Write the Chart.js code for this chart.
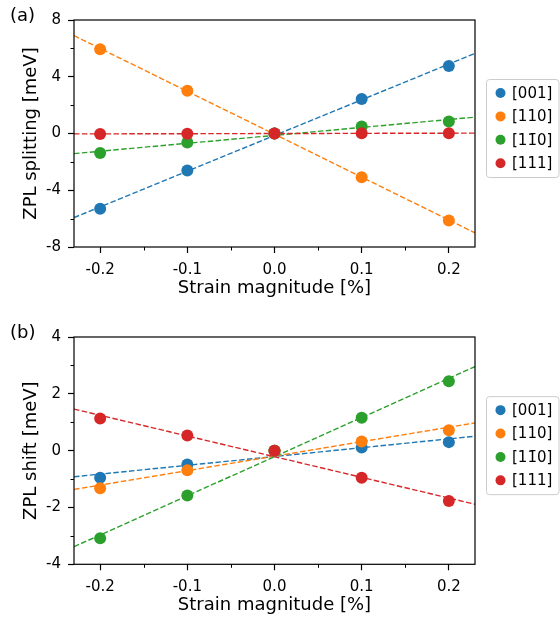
<!DOCTYPE html>
<html>
<head>
<meta charset="utf-8">
<script src="https://cdn.jsdelivr.net/npm/chart.js@4.4.1/dist/chart.umd.min.js"></script>
<style>
  html, body { margin: 0; padding: 0; background: #fff; }
  canvas { display: block; }
</style>
</head>
<body>
<canvas id="chartA" width="560" height="310"></canvas>
<canvas id="chartB" width="560" height="310"></canvas>
<script>
// Strain values (x) shared by both panels
const strain = [-0.2, -0.1, 0.0, 0.1, 0.2];
const xTicks = [-0.2, -0.1, 0.0, 0.1, 0.2];
const xMinorTicks = [-0.15, -0.05, 0.05, 0.15];
const xLimits = [-0.23, 0.23];

// Strain directions and their colours
const directions = ['[001]', '[110]', '[11\u03040]', '[111]'];
const colors = ['#1f77b4', '#ff7f0e', '#2ca02c', '#d62728'];

// (a) ZPL splitting [meV]
const splitting001 = [-5.30, -2.60, 0.00, 2.44, 4.76];
const splitting110 = [5.94, 3.01, 0.00, -3.08, -6.13];
const splitting1m10 = [-1.38, -0.63, 0.00, 0.50, 0.85];
const splitting111 = [-0.03, -0.01, 0.00, 0.01, 0.02];
const splittingTicks = [-8, -4, 0, 4, 8];
const splittingMinor = [-6, -2, 2, 6];

// (b) ZPL shift [meV]
const shift001 = [-0.95, -0.49, 0.00, 0.11, 0.30];
const shift110 = [-1.32, -0.69, 0.00, 0.32, 0.72];
const shift1m10 = [-3.08, -1.58, 0.00, 1.16, 2.44];
const shift111 = [1.13, 0.53, 0.00, -0.95, -1.77];
const shiftTicks = [-4, -2, 0, 2, 4];
const shiftMinor = [-3, -1, 1, 3];

Chart.defaults.font.family = "'DejaVu Sans', sans-serif";
Chart.defaults.color = '#000';

// Least-squares straight line through a series
function linearFit(xs, ys) {
  const n = xs.length;
  const mx = xs.reduce((a, b) => a + b, 0) / n;
  const my = ys.reduce((a, b) => a + b, 0) / n;
  let sxy = 0, sxx = 0;
  for (let i = 0; i < n; i++) {
    sxy += (xs[i] - mx) * (ys[i] - my);
    sxx += (xs[i] - mx) * (xs[i] - mx);
  }
  const slope = sxy / sxx;
  return x => my + slope * (x - mx);
}

// Frame, minor ticks, panel tag and boxed legend
const decorations = {
  id: 'decorations',
  afterDatasetsDraw(chart, args, opts) {
    const ctx = chart.ctx;
    const area = chart.chartArea;
    const xs = chart.scales.x, ys = chart.scales.y;
    ctx.save();
    ctx.strokeStyle = '#000';
    ctx.lineWidth = 1.2;
    ctx.strokeRect(area.left, area.top, area.right - area.left, area.bottom - area.top);
    ctx.lineWidth = 1;
    ctx.beginPath();
    opts.xMinor.forEach(v => {
      const px = Math.round(xs.getPixelForValue(v)) + 0.5;
      ctx.moveTo(px, area.bottom);
      ctx.lineTo(px, area.bottom + 3.5);
    });
    opts.yMinor.forEach(v => {
      const py = Math.round(ys.getPixelForValue(v)) + 0.5;
      ctx.moveTo(area.left, py);
      ctx.lineTo(area.left - 3.5, py);
    });
    ctx.stroke();

    // panel tag
    ctx.fillStyle = '#000';
    ctx.font = "18px 'DejaVu Sans'";
    ctx.textAlign = 'left';
    ctx.textBaseline = 'middle';
    ctx.fillText(opts.tag, 10, area.top - 3.5);

    // legend
    const boxLeft = area.right + 11.5;
    const boxTop = (area.top + area.bottom) / 2 - 54;
    const boxW = 72.5, boxH = 98, r = 3;
    ctx.beginPath();
    ctx.moveTo(boxLeft + r, boxTop);
    ctx.lineTo(boxLeft + boxW - r, boxTop);
    ctx.arcTo(boxLeft + boxW, boxTop, boxLeft + boxW, boxTop + r, r);
    ctx.lineTo(boxLeft + boxW, boxTop + boxH - r);
    ctx.arcTo(boxLeft + boxW, boxTop + boxH, boxLeft + boxW - r, boxTop + boxH, r);
    ctx.lineTo(boxLeft + r, boxTop + boxH);
    ctx.arcTo(boxLeft, boxTop + boxH, boxLeft, boxTop + boxH - r, r);
    ctx.lineTo(boxLeft, boxTop + r);
    ctx.arcTo(boxLeft, boxTop, boxLeft + r, boxTop, r);
    ctx.closePath();
    ctx.fillStyle = 'rgba(255,255,255,0.8)';
    ctx.fill();
    ctx.strokeStyle = '#cccccc';
    ctx.lineWidth = 1;
    ctx.stroke();
    ctx.font = "15px 'DejaVu Sans'";
    directions.forEach((name, i) => {
      const cy = boxTop + 13.5 + i * 23.4;
      ctx.beginPath();
      ctx.arc(boxLeft + 14, cy, 5, 0, Math.PI * 2);
      ctx.fillStyle = colors[i];
      ctx.fill();
      ctx.fillStyle = '#000';
      ctx.fillText(name, boxLeft + 25.5, cy + 1);
    });
    ctx.restore();
  }
};

function buildChart(canvasId, series, cfg) {
  const datasets = [];
  series.forEach((ys, i) => {
    const fit = linearFit(strain, ys);
    datasets.push({
      type: 'line',
      label: directions[i] + ' fit',
      data: xLimits.map(x => ({ x: x, y: fit(x) })),
      borderColor: colors[i],
      borderWidth: 1.4,
      borderDash: [5.5, 2.4],
      pointRadius: 0,
      fill: false,
      order: 10 + (series.length - 1 - i)
    });
  });
  series.forEach((ys, i) => {
    datasets.push({
      type: 'scatter',
      label: directions[i],
      data: strain.map((x, k) => ({ x: x, y: ys[k] })),
      backgroundColor: colors[i],
      borderColor: colors[i],
      borderWidth: 0,
      pointRadius: 6,
      pointHoverRadius: 6,
      order: series.length - 1 - i
    });
  });

  return new Chart(document.getElementById(canvasId), {
    data: { datasets: datasets },
    options: {
      responsive: false,
      animation: false,
      events: [],
      layout: { padding: { left: 0, right: 85, top: cfg.padTop, bottom: cfg.padBottom } },
      plugins: {
        legend: { display: false },
        tooltip: { enabled: false },
        decorations: { tag: cfg.tag, xMinor: xMinorTicks, yMinor: cfg.yMinor }
      },
      scales: {
        x: {
          type: 'linear',
          min: xLimits[0],
          max: xLimits[1],
          afterBuildTicks: s => { s.ticks = xTicks.map(v => ({ value: v })); },
          afterFit: s => { s.height = 52; },
          ticks: {
            font: { size: 15 },
            color: '#000',
            padding: 8,
            maxRotation: 0,
            callback: v => v.toFixed(1)
          },
          grid: {
            display: true,
            drawOnChartArea: false,
            drawTicks: true,
            tickLength: 6,
            tickWidth: 1.2,
            tickColor: '#000'
          },
          border: { display: false },
          title: {
            display: true,
            text: 'Strain magnitude [%]',
            font: { size: 18 },
            color: '#000',
            padding: { top: 0, bottom: 0.2 }
          }
        },
        y: {
          type: 'linear',
          min: cfg.yTicks[0],
          max: cfg.yTicks[cfg.yTicks.length - 1],
          afterBuildTicks: s => { s.ticks = cfg.yTicks.map(v => ({ value: v })); },
          afterFit: s => { s.width = 74; },
          ticks: {
            font: { size: 15 },
            color: '#000',
            padding: 7,
            callback: v => String(v)
          },
          grid: {
            display: true,
            drawOnChartArea: false,
            drawTicks: true,
            tickLength: 6,
            tickWidth: 1.2,
            tickColor: '#000'
          },
          border: { display: false },
          title: {
            display: true,
            text: cfg.yTitle,
            font: { size: 18 },
            color: '#000',
            padding: { top: 21, bottom: 0 }
          }
        }
      }
    },
    plugins: [decorations]
  });
}

buildChart('chartA', [splitting001, splitting110, splitting1m10, splitting111], {
  tag: '(a)', yTitle: 'ZPL splitting [meV]', yTicks: splittingTicks, yMinor: splittingMinor,
  padTop: 20, padBottom: 11
});
buildChart('chartB', [shift001, shift110, shift1m10, shift111], {
  tag: '(b)', yTitle: 'ZPL shift [meV]', yTicks: shiftTicks, yMinor: shiftMinor,
  padTop: 27, padBottom: 3.7
});
</script>
</body>
</html>
